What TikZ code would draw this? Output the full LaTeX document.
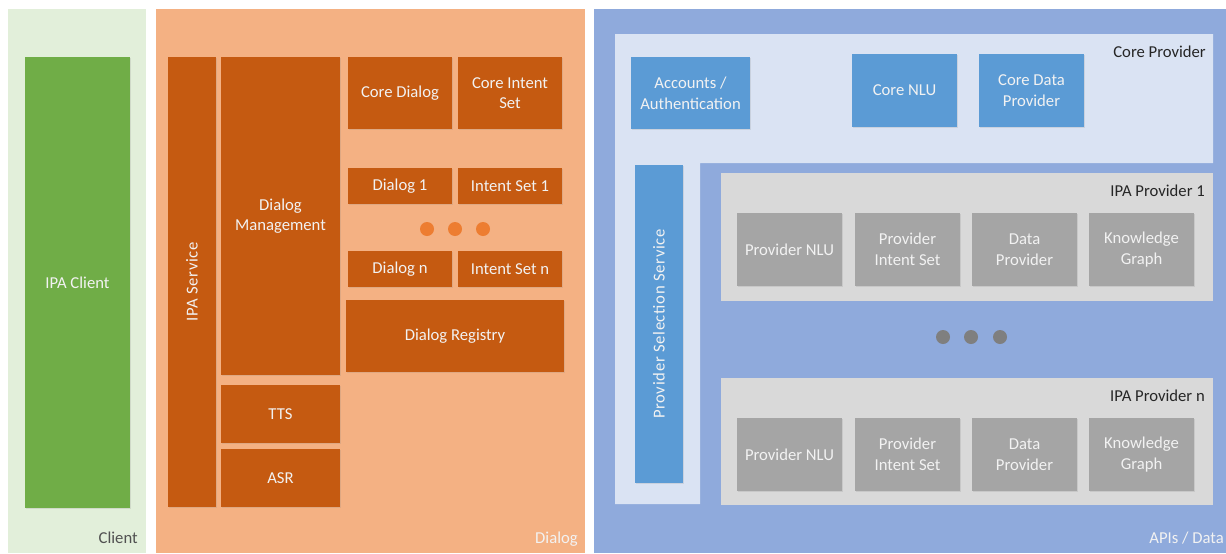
\documentclass[tikz,border=0pt]{standalone}
\usepackage{fontspec}
\setmainfont{Carlito}
\usetikzlibrary{shadows}
\definecolor{clientbg}{HTML}{E2EFDA}
\definecolor{clientfg}{HTML}{70AD47}
\definecolor{dialogbg}{HTML}{F4B183}
\definecolor{dialogfg}{HTML}{C55A11}
\definecolor{dialogdot}{HTML}{ED7D31}
\definecolor{apibg}{HTML}{8FAADC}
\definecolor{corebg}{HTML}{DAE3F3}
\definecolor{bluefg}{HTML}{5B9BD5}
\definecolor{provbg}{HTML}{D9D9D9}
\definecolor{provfg}{HTML}{A5A5A5}
\definecolor{graydot}{HTML}{7F7F7F}
\definecolor{labeldark}{HTML}{262626}
\definecolor{labellight}{HTML}{F2F2F2}
\newcommand\mybox[7]{\node[#1, minimum width={(#5-#3)*0.75pt}, minimum height={(#6-#4)*0.75pt}] (#2) at ({(#3+#5)/2},{(#4+#6)/2}) {#7};}
\newcommand\myvbox[7]{\node[#1, rotate=90, minimum width={(#6-#4)*0.75pt}, minimum height={(#5-#3)*0.75pt}] (#2) at ({(#3+#5)/2},{(#4+#6)/2}) {#7};}
\begin{document}
\begin{tikzpicture}[x=0.75pt, y=-0.75pt,
  base/.style={rectangle, inner sep=0pt, outer sep=0pt, align=center, font=\fontsize{12.5}{15.5}\selectfont, text=labellight},
  panel/.style={base},
  shad/.style={drop shadow={opacity=0.18, shadow xshift=0.8pt, shadow yshift=-0.8pt}},
  obox/.style={base, fill=dialogfg, shad},
  bbox/.style={base, fill=bluefg, shad},
  gbox/.style={base, fill=provfg, shad},
  cbox/.style={base, fill=clientfg, shad},
  lbl/.style={inner sep=0pt, font=\fontsize{12.5}{15.5}\selectfont},
  odot/.style={circle, fill=dialogdot, minimum size=10.5pt, inner sep=0pt},
  gdot/.style={circle, fill=graydot, minimum size=10.5pt, inner sep=0pt},
  spaced/.style={font=\addfontfeatures{LetterSpace=4}\fontsize{12.5}{15.5}\selectfont}
]
\useasboundingbox (0,0) rectangle (1226,553);
\fill[white] (0,0) rectangle (1226,553);

% Client panel
\mybox{panel, fill=clientbg}{clientpanel}{8}{9}{146}{553}{}
\node[lbl, text=labeldark!80, anchor=base east] (clientlbl) at (138,543) {Client};
\mybox{cbox}{ipaclient}{25}{57}{130}{508}{IPA Client}

% Dialog panel
\mybox{panel, fill=dialogbg}{dialogpanel}{156}{9}{585}{553}{}
\node[lbl, text=labellight, anchor=base east] (dialoglbl) at (578,543) {Dialog};
\myvbox{obox, spaced}{ipaservice}{168}{57}{216}{507}{IPA Service}
\mybox{obox}{dialogmgmt}{221}{57}{340}{375}{Dialog\\Management}
\mybox{obox}{tts}{221}{385}{340}{443}{TTS}
\mybox{obox}{asr}{221}{449}{340}{507}{ASR}
\mybox{obox}{coredialog}{348}{57}{452}{129}{Core Dialog}
\mybox{obox}{coreintent}{458}{57}{562}{129}{Core Intent\\Set}
\mybox{obox}{dialog1}{348}{168}{452}{204}{Dialog 1}
\mybox{obox}{intent1}{458}{168}{562}{204}{Intent Set 1}
\node[odot] (od1) at (427,229) {};
\node[odot] (od2) at (455,229) {};
\node[odot] (od3) at (483,229) {};
\mybox{obox}{dialogn}{348}{251}{452}{287}{Dialog n}
\mybox{obox}{intentn}{458}{251}{562}{287}{Intent Set n}
\mybox{obox}{registry}{346}{300}{564}{372}{Dialog Registry}

% APIs / Data panel
\mybox{panel, fill=apibg}{apipanel}{594}{9}{1226}{553}{}
\node[lbl, text=labellight, anchor=base east] (apilbl) at (1224,543) {APIs / Data};
\fill[corebg] (615,34) -- (1213,34) -- (1213,163) -- (700,163) -- (700,504) -- (615,504) -- cycle;
\node[lbl, text=labeldark, anchor=base east] (corelbl) at (1206,57) {Core Provider};
\mybox{bbox}{accounts}{631}{57}{750}{129}{Accounts /\\Authentication}
\mybox{bbox}{corenlu}{852}{54}{957}{127}{Core NLU}
\mybox{bbox}{coredata}{979}{54}{1084}{127}{Core Data\\Provider}
\myvbox{bbox, spaced}{selection}{635}{165}{683}{483}{Provider Selection Service}

% IPA Provider 1
\mybox{panel, fill=provbg}{prov1}{721}{173}{1213}{301}{}
\node[lbl, text=labeldark, anchor=base east] (prov1lbl) at (1205,196) {IPA Provider 1};
\mybox{gbox}{p1nlu}{737}{213}{842}{286}{Provider NLU}
\mybox{gbox}{p1intent}{855}{213}{960}{286}{Provider\\Intent Set}
\mybox{gbox}{p1data}{972}{213}{1077}{286}{Data\\Provider}
\mybox{gbox}{p1kg}{1089}{213}{1194}{286}{Knowledge\\Graph}

\node[gdot] (gd1) at (943,337) {};
\node[gdot] (gd2) at (971,337) {};
\node[gdot] (gd3) at (1000,337) {};

% IPA Provider n
\mybox{panel, fill=provbg}{provn}{721}{378}{1213}{505}{}
\node[lbl, text=labeldark, anchor=base east] (provnlbl) at (1205,401) {IPA Provider n};
\mybox{gbox}{pnnlu}{737}{418}{842}{491}{Provider NLU}
\mybox{gbox}{pnintent}{855}{418}{960}{491}{Provider\\Intent Set}
\mybox{gbox}{pndata}{972}{418}{1077}{491}{Data\\Provider}
\mybox{gbox}{pnkg}{1089}{418}{1194}{491}{Knowledge\\Graph}
\end{tikzpicture}
\end{document}
